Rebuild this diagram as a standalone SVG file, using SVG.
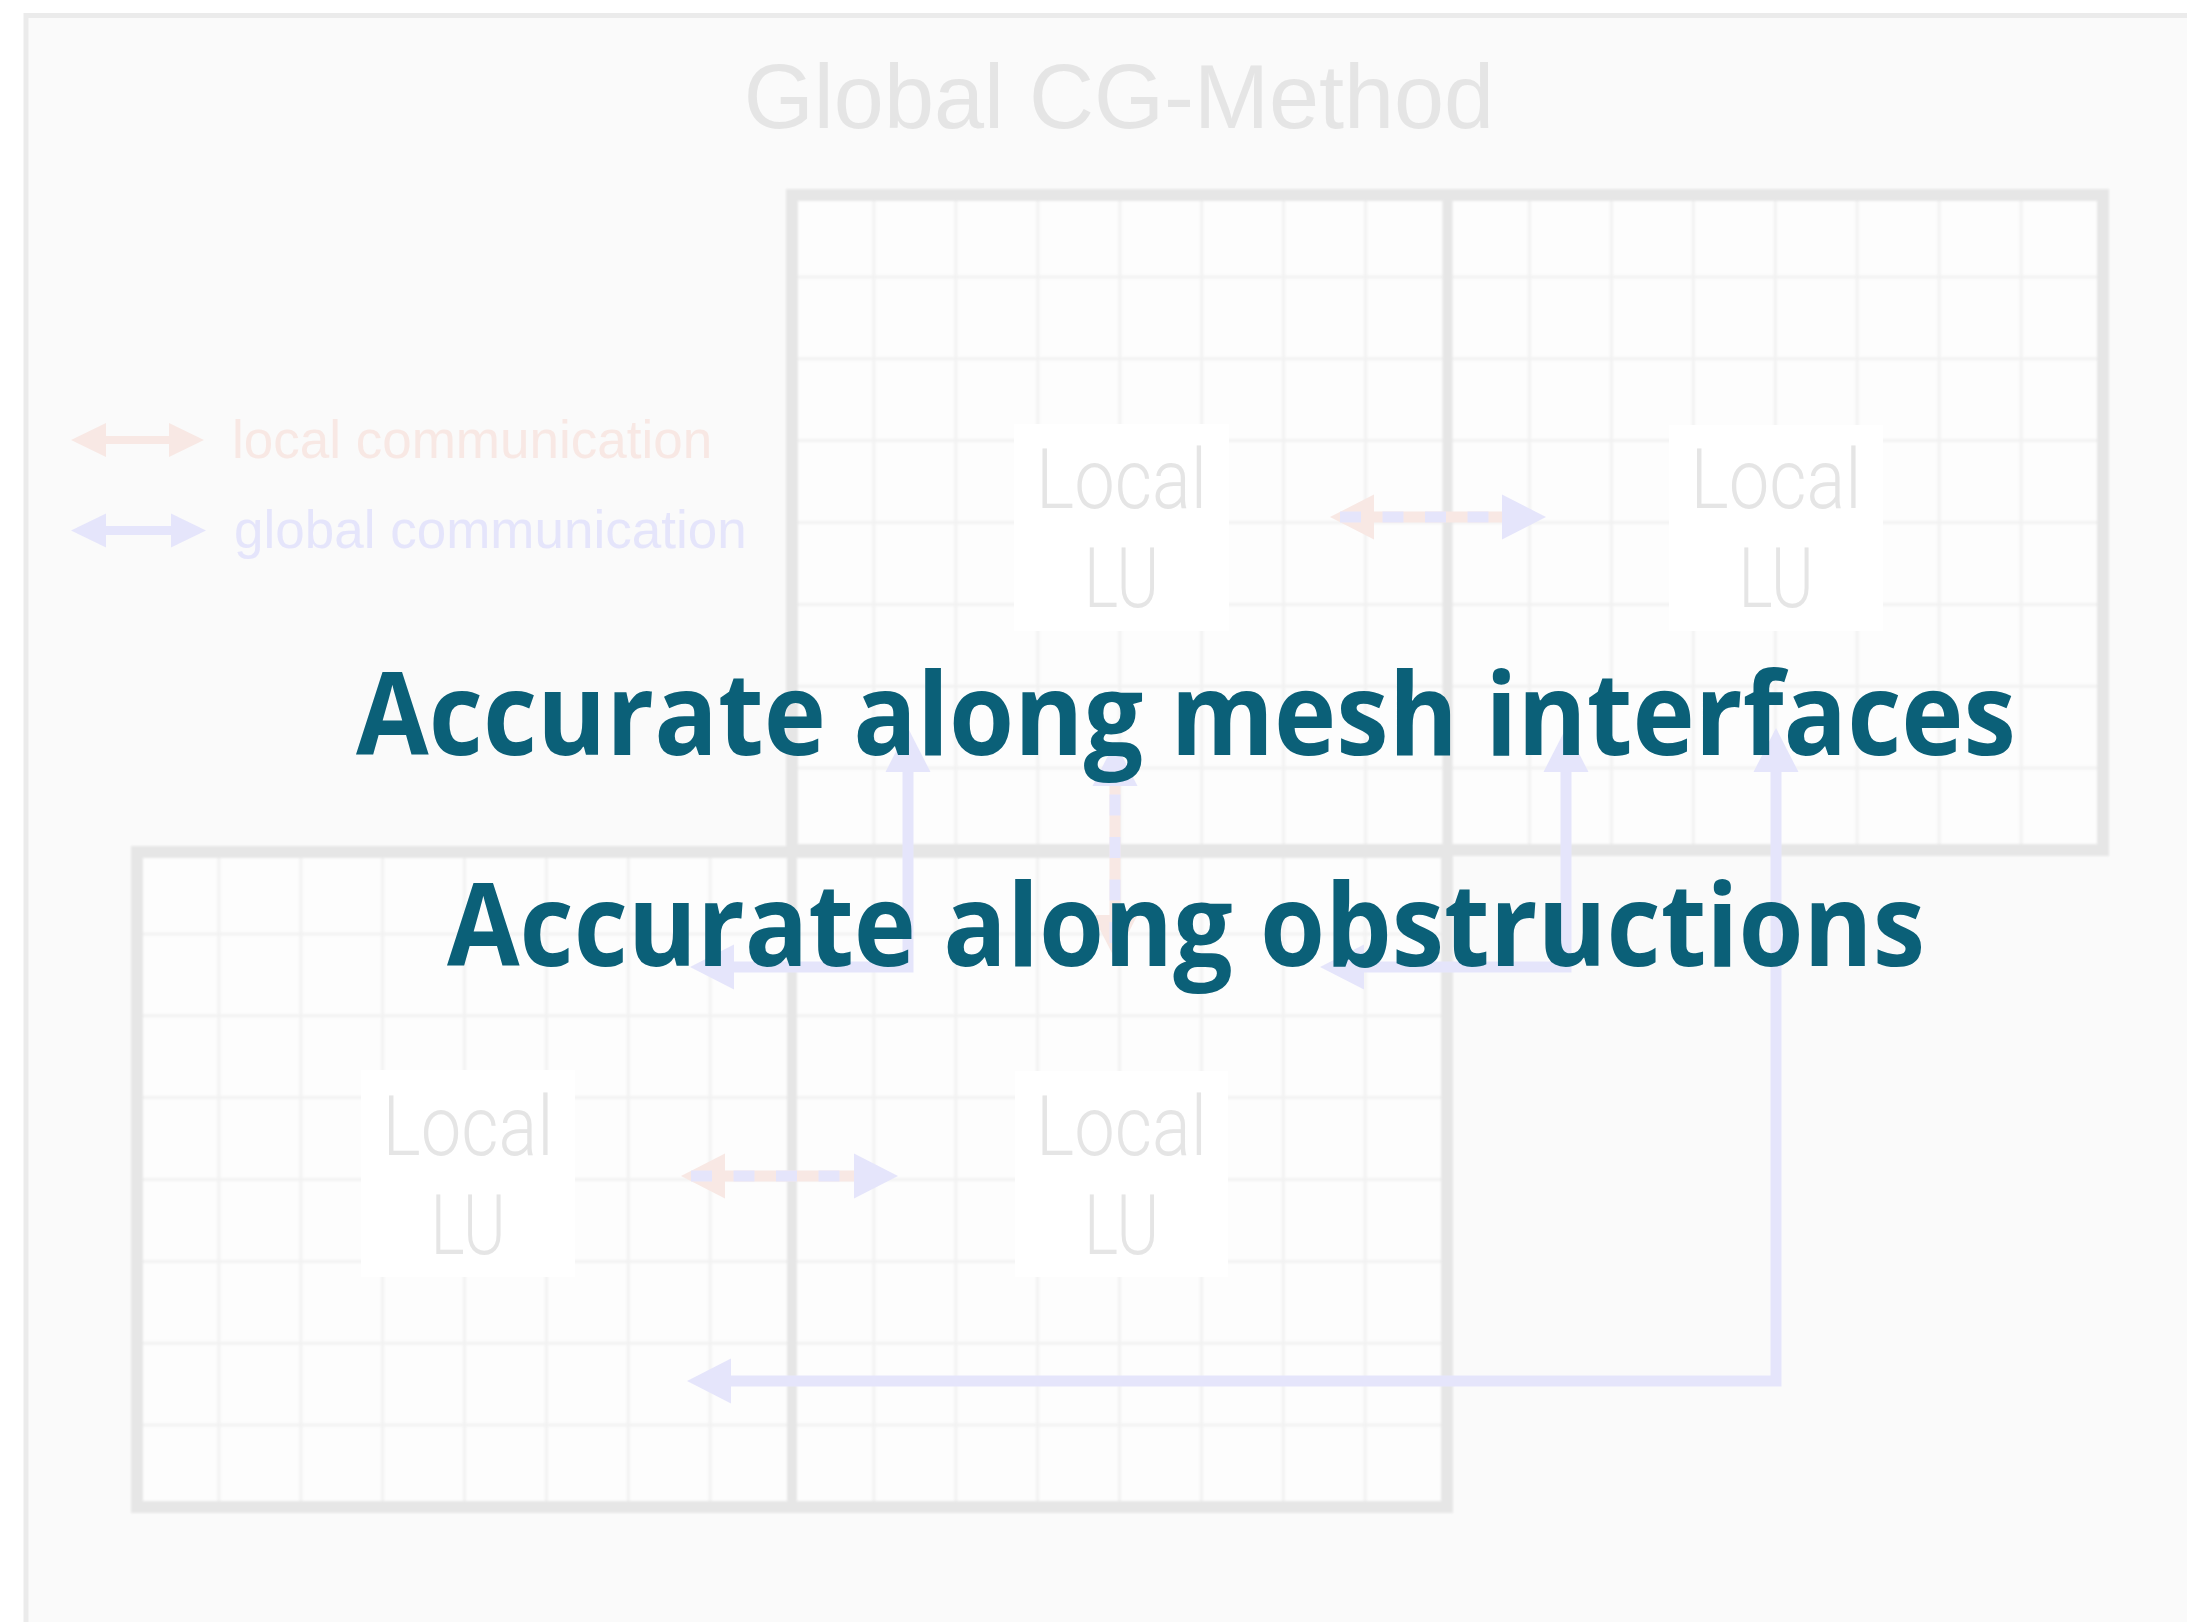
<svg xmlns="http://www.w3.org/2000/svg" width="2187" height="1622" viewBox="0 0 2187 1622">
  <style>
    .frame { fill: #fafafa; stroke: #ebebeb; stroke-width: 5; }
    .title { font-family: "Liberation Sans", Arial, sans-serif; font-size: 90px; fill: #e5e5e5; }
    .legend-text { font-family: "Liberation Sans", Arial, sans-serif; font-size: 53px; }
    .mesh-fill { fill: #fdfdfd; stroke: none; }
    .mesh-thin { fill: none; stroke: #f2f2f2; stroke-width: 3; }
    .mesh-border { fill: none; stroke: #e6e6e6; stroke-width: 12; }
    .mesh-div { fill: none; stroke: #e6e6e6; stroke-width: 10; }
    .lu-box { fill: #ffffff; }
    .lu-text { font-family: Roboto, "Noto Sans", "DejaVu Sans", sans-serif; font-weight: 300; font-size: 84px; fill: #e5e5e5; }
    .global { fill: none; stroke: #e5e5fb; stroke-width: 11; }
    .local-base { fill: none; stroke: #f8e8e4; stroke-width: 11; }
    .local-dash { fill: none; stroke: #e5e5fb; stroke-width: 11; stroke-dasharray: 21 21.5; }
    .heading { font-family: "Open Sans", "Noto Sans", "DejaVu Sans", sans-serif; font-weight: 700; font-size: 115px; fill: #0b6078; }
  </style>
  <defs>
    <filter id="soft" x="-2%" y="-2%" width="104%" height="104%">
      <feGaussianBlur stdDeviation="1.2"/>
    </filter>
    <marker id="gHead" markerUnits="userSpaceOnUse" markerWidth="46" markerHeight="46" refX="0" refY="22.5" orient="auto-start-reverse" overflow="visible">
      <path d="M0,0 L44,22.5 L0,45 Z" fill="#e5e5fb"/>
    </marker>
    <marker id="lHead" markerUnits="userSpaceOnUse" markerWidth="46" markerHeight="46" refX="0" refY="22.5" orient="auto-start-reverse" overflow="visible">
      <path d="M0,0 L44,22.5 L0,45 Z" fill="#f8e8e4"/>
    </marker>
    <marker id="gLeg" markerUnits="userSpaceOnUse" markerWidth="36" markerHeight="36" refX="0" refY="17" orient="auto-start-reverse" overflow="visible">
      <path d="M0,0 L35,17 L0,34 Z" fill="#e5e5fb"/>
    </marker>
    <marker id="lLeg" markerUnits="userSpaceOnUse" markerWidth="36" markerHeight="36" refX="0" refY="17" orient="auto-start-reverse" overflow="visible">
      <path d="M0,0 L35,17 L0,34 Z" fill="#f8e8e4"/>
    </marker>
  </defs>

  <rect x="0" y="0" width="2187" height="1622" fill="#ffffff"/>
  <rect class="frame" x="26" y="15.5" width="2250" height="1700"/>

  <text class="title" x="1119" y="128" text-anchor="middle">Global CG-Method</text>

  <g id="legend">
    <line x1="106" y1="440" x2="169" y2="440" stroke="#f8e8e4" stroke-width="8" marker-start="url(#lLeg)" marker-end="url(#lLeg)"/>
    <text class="legend-text" x="232" y="458" fill="#f8e8e4">local communication</text>
    <line x1="106" y1="530.5" x2="171" y2="530.5" stroke="#e5e5fb" stroke-width="9" marker-start="url(#gLeg)" marker-end="url(#gLeg)"/>
    <text class="legend-text" x="234" y="548" fill="#e5e5fb">global communication</text>
  </g>

  <g id="mesh-top" filter="url(#soft)">
    <rect class="mesh-fill" x="792" y="195" width="1311" height="655"/>
    <path class="mesh-thin" d="M873.9,195V850 M955.9,195V850 M1037.8,195V850 M1119.8,195V850 M1201.7,195V850 M1283.6,195V850 M1365.6,195V850 M1529.4,195V850 M1611.4,195V850 M1693.3,195V850 M1775.3,195V850 M1857.2,195V850 M1939.1,195V850 M2021.1,195V850 M792,276.9H2103 M792,358.8H2103 M792,440.6H2103 M792,522.5H2103 M792,604.4H2103 M792,686.3H2103 M792,768.1H2103"/>
    <line class="mesh-div" x1="1447.5" y1="195" x2="1447.5" y2="850"/>
    <rect class="mesh-border" x="792" y="195" width="1311" height="655"/>
  </g>

  <g id="mesh-bottom" filter="url(#soft)">
    <rect class="mesh-fill" x="137" y="852" width="1310" height="655"/>
    <path class="mesh-thin" d="M218.9,852V1507 M300.8,852V1507 M382.6,852V1507 M464.5,852V1507 M546.4,852V1507 M628.3,852V1507 M710.1,852V1507 M873.9,852V1507 M955.8,852V1507 M1037.6,852V1507 M1119.5,852V1507 M1201.4,852V1507 M1283.3,852V1507 M1365.1,852V1507 M137,933.9H1447 M137,1015.8H1447 M137,1097.6H1447 M137,1179.5H1447 M137,1261.4H1447 M137,1343.3H1447 M137,1425.1H1447"/>
    <line class="mesh-div" x1="792" y1="852" x2="792" y2="1507"/>
    <rect class="mesh-border" x="137" y="852" width="1310" height="655"/>
  </g>

  <g id="lu-top-left">
    <rect class="lu-box" x="1014" y="424" width="215" height="207"/>
    <text class="lu-text" x="1121.5" y="508" text-anchor="middle" textLength="171" lengthAdjust="spacingAndGlyphs">Local</text>
    <text class="lu-text" x="1121.5" y="607" text-anchor="middle" textLength="75" lengthAdjust="spacingAndGlyphs">LU</text>
  </g>
  <g id="lu-top-right">
    <rect class="lu-box" x="1669" y="425" width="214" height="206"/>
    <text class="lu-text" x="1776" y="508" text-anchor="middle" textLength="171" lengthAdjust="spacingAndGlyphs">Local</text>
    <text class="lu-text" x="1776" y="607" text-anchor="middle" textLength="75" lengthAdjust="spacingAndGlyphs">LU</text>
  </g>
  <g id="lu-bottom-left">
    <rect class="lu-box" x="361" y="1070" width="214" height="207"/>
    <text class="lu-text" x="468" y="1155" text-anchor="middle" textLength="171" lengthAdjust="spacingAndGlyphs">Local</text>
    <text class="lu-text" x="468" y="1254" text-anchor="middle" textLength="75" lengthAdjust="spacingAndGlyphs">LU</text>
  </g>
  <g id="lu-bottom-right">
    <rect class="lu-box" x="1015" y="1071" width="213" height="206"/>
    <text class="lu-text" x="1121.5" y="1155" text-anchor="middle" textLength="171" lengthAdjust="spacingAndGlyphs">Local</text>
    <text class="lu-text" x="1121.5" y="1254" text-anchor="middle" textLength="75" lengthAdjust="spacingAndGlyphs">LU</text>
  </g>

  <g id="connectors">
    <!-- local (dashed) double arrows -->
    <line class="local-base" x1="1374" y1="517" x2="1502" y2="517" marker-start="url(#lHead)" marker-end="url(#gHead)"/>
    <line class="local-dash" x1="1340" y1="517" x2="1502" y2="517"/>
    <line class="local-base" x1="725" y1="1176" x2="854" y2="1176" marker-start="url(#lHead)" marker-end="url(#gHead)"/>
    <line class="local-dash" x1="691" y1="1176" x2="854" y2="1176"/>
    <line class="local-base" x1="1115" y1="915" x2="1115" y2="786" marker-start="url(#lHead)" marker-end="url(#gHead)"/>
    <line class="local-dash" x1="1115" y1="943" x2="1115" y2="786"/>
    <!-- global elbow arrows -->
    <path class="global" d="M734,967 H908 V772" marker-start="url(#gHead)" marker-end="url(#gHead)"/>
    <path class="global" d="M1364,967 H1566 V772" marker-start="url(#gHead)" marker-end="url(#gHead)"/>
    <path class="global" d="M731,1381 H1776 V772" marker-start="url(#gHead)" marker-end="url(#gHead)"/>
  </g>

  <g id="headings">
    <text class="heading" x="356" y="755" textLength="1660" lengthAdjust="spacingAndGlyphs">Accurate along mesh interfaces</text>
    <text class="heading" x="447" y="966" textLength="1478" lengthAdjust="spacingAndGlyphs">Accurate along obstructions</text>
  </g>
</svg>
